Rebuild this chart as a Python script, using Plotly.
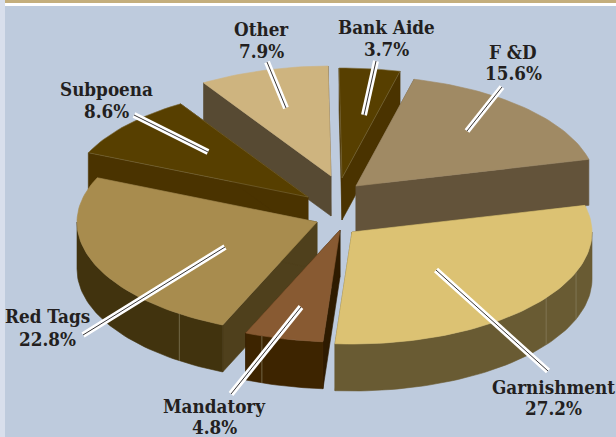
import math
import plotly.graph_objects as go

# ---- data ----
categories = ["Bank Aide", "F &D", "Garnishment", "Mandatory", "Red Tags", "Subpoena", "Other"]
values = [3.7, 15.6, 27.2, 4.8, 22.8, 8.6, 7.9]

# ---- styles ----
top_colors = ["#573F00", "#A08A64", "#DCC273", "#885A32", "#A88C4E", "#573F00", "#CEB47F"]
wall_colors = ["#4A3300", "#63533A", "#695B33", "#3D2400", "#41330E", "#4A3300", "#574A33"]
cut_colors = ["#4A3300", "#63533A", "#695B33", "#2E1B00", "#4F401C", "#4A3300", "#574A33"]
pull_x = [4, 18, 14, 2, -21, -30, -7]
pull_y = [-29, -21, 25, 23, 15, -10, -31]
depths = [42, 46, 47, 47, 47, 40, 40]
seams = {2: [111, 126], 3: [199], 4: [215]}
edge_colors = {0: "#7A6A3A", 5: "#7A6A3A"}
draw_order = [0, 6, 5, 1, 4, 3, 2]

CX, CY, RX, RY_BACK, RY_FRONT = 338, 207, 240, 110, 112
START = -0.7
BG, TEXT = "#BECBDD", "#231F20"
FONT = dict(family="DejaVu Serif Condensed", size=18.7, color=TEXT)

label_x = [386, 513, 553, 214, 47, 106, 261]
name_y = [27, 52, 387, 406, 316, 89, 29]
pct_y = [49, 73, 408, 427, 339, 111, 51]
leader_x = [(376, 364), (502, 467), (548, 436), (231, 301), (83, 225), (134, 208), (267, 286)]
leader_y = [(61, 115), (87, 131), (371, 270), (394, 307), (335, 247), (115, 152), (62, 108)]

total = sum(values)
spans = [v / total * 360 for v in values]
starts = [START + sum(spans[:i]) for i in range(len(spans))]


def rim(i, deg, drop=0):
    a = math.radians(deg)
    c = math.cos(a)
    ry = RY_BACK if c > 0 else RY_FRONT
    return (CX + pull_x[i] + RX * math.sin(a), CY + pull_y[i] - ry * c + drop)


def arc(i, a0, a1, drop=0):
    n = max(2, int(abs(a1 - a0) / 1.5) + 1)
    return [rim(i, a0 + (a1 - a0) * k / (n - 1), drop) for k in range(n)]


def poly(fig, pts, color, edge=None):
    xs = [p[0] for p in pts] + [pts[0][0]]
    ys = [p[1] for p in pts] + [pts[0][1]]
    fig.add_trace(go.Scatter(
        x=xs, y=ys, mode="lines", fill="toself", fillcolor=color,
        line=dict(color=edge or color, width=0.6), hoverinfo="skip", showlegend=False))


def cut_wall(fig, i, deg):
    ax, ay = CX + pull_x[i], CY + pull_y[i]
    d = depths[i]
    px, py = rim(i, deg)
    poly(fig, [(ax, ay), (px, py), (px, py + d), (ax, ay + d)], cut_colors[i])


fig = go.Figure()
for i in draw_order:
    a0, a1 = starts[i], starts[i] + spans[i]
    ax, ay = CX + pull_x[i], CY + pull_y[i]
    d = depths[i]
    # cut faces, the one facing away from the viewer first
    cut_wall(fig, i, a0)
    cut_wall(fig, i, a1)
    # outer rounded wall on the near half only
    lo, hi = max(a0, 90), min(a1, 270)
    if hi > lo:
        poly(fig, arc(i, lo, hi) + arc(i, hi, lo, d), wall_colors[i])
        for s in seams.get(i, []):
            p = rim(i, s)
            fig.add_trace(go.Scatter(
                x=[p[0], p[0]], y=[p[1], p[1] + d], mode="lines",
                line=dict(color="#8A8062", width=0.7), hoverinfo="skip", showlegend=False))
    # top face
    poly(fig, [(ax, ay)] + arc(i, a0, a1), top_colors[i], edge_colors.get(i))

# leaders
for lx, ly in zip(leader_x, leader_y):
    fig.add_trace(go.Scatter(x=list(lx), y=list(ly), mode="lines",
                             line=dict(color="white", width=6), hoverinfo="skip", showlegend=False))
    fig.add_trace(go.Scatter(x=list(lx), y=list(ly), mode="lines",
                             line=dict(color=TEXT, width=0.9), hoverinfo="skip", showlegend=False))

# labels
annotations = []
for name, v, x, y1, y2 in zip(categories, values, label_x, name_y, pct_y):
    for txt, y in ((f"<b>{name}</b>", y1), (f"<b>{v}%</b>", y2)):
        annotations.append(dict(x=x, y=y, text=txt, showarrow=False, xanchor="center",
                                yanchor="middle", font=FONT, xref="x", yref="y"))

shapes = [
    dict(type="rect", x0=0, x1=5, y0=0, y1=437, fillcolor="#D8DFEC", line_width=0, layer="below"),
    dict(type="rect", x0=5, x1=616, y0=0, y1=3, fillcolor="#C4AE7C", line_width=0, layer="below"),
    dict(type="rect", x0=5, x1=616, y0=3, y1=6, fillcolor="white", line_width=0, layer="below"),
]

fig.update_layout(
    width=616, height=437, autosize=False,
    margin=dict(l=0, r=0, t=0, b=0),
    paper_bgcolor=BG, plot_bgcolor=BG, showlegend=False,
    xaxis=dict(range=[0, 616], visible=False, fixedrange=True),
    yaxis=dict(range=[437, 0], visible=False, fixedrange=True),
    annotations=annotations, shapes=shapes,
)
fig.write_html("out.html", config={"displayModeBar": False},
               post_script="document.body.style.margin='0';")
